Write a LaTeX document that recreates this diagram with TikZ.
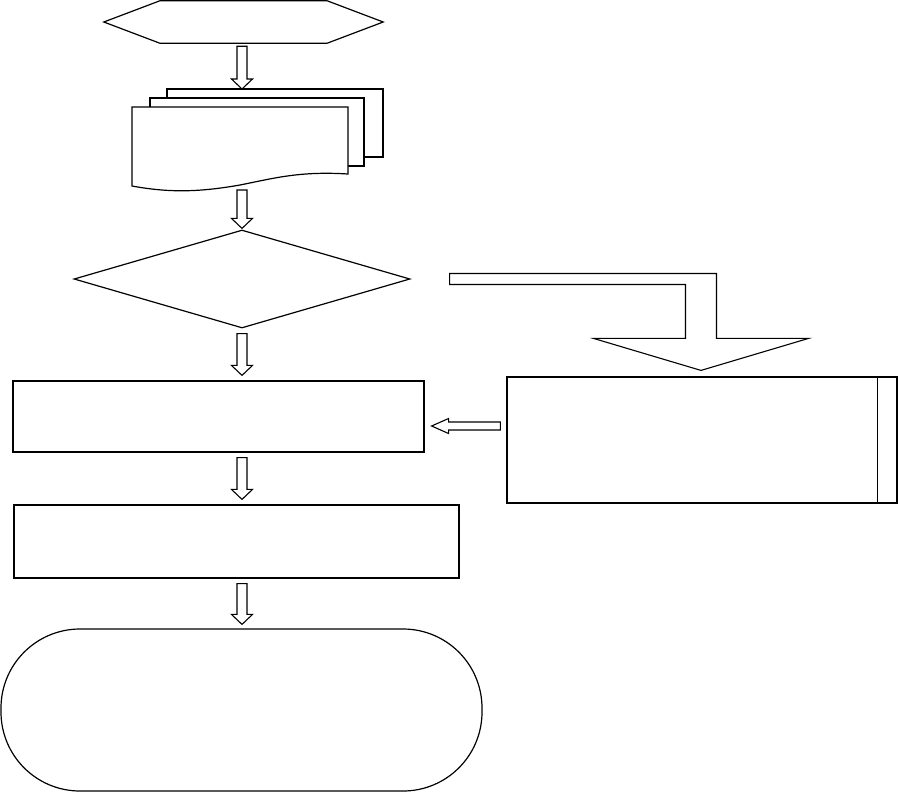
\documentclass[tikz,border=0pt]{standalone}
\usetikzlibrary{calc,shapes.geometric}
\tikzset{
	line/.style={draw=black,line width=1.2pt},
	blk/.style={draw=black,line width=1.1pt,fill=white,line join=miter},
	box/.style={rectangle,draw=black,line width=1.2pt,inner sep=0pt},
}
% hollow block arrow pointing down, x taken from the start point
\newcommand{\blkdown}[2]{\draw[blk] let \p1=(#1), \p2=(#2) in
	(\x1-5pt,\y1) -- (\x1+5pt,\y1) -- (\x1+5pt,\y2+10pt) -- (\x1+10.5pt,\y2+10pt) -- (\x1,\y2)
	-- (\x1-10.5pt,\y2+10pt) -- (\x1-5pt,\y2+10pt) -- cycle;}
\begin{document}
\begin{tikzpicture}[x=1pt,y=-1pt]
	\useasboundingbox (0,0) rectangle (899,793);
	% start
	\node[minimum width=167pt,minimum height=42pt,inner sep=0pt](hex) at (243.5,22){};
	\draw[line](hex.north west)--(hex.north east)--($(hex.east)+(56,0)$)--(hex.south east)
		--(hex.south west)--($(hex.west)+(-56,0)$)--cycle;
	% pages
	\coordinate(pages) at (242,89);
	\coordinate(docs) at (242,190);
	\draw[line,fill=white](167,89) rectangle (383,157);
	\draw[line,fill=white](150,98) rectangle (364,166);
	\draw[line,fill=white](132,107)--(348,107)--(348,174)
		.. controls (300,171) and (275,178) .. (240,185)
		.. controls (200,192) and (170,193) .. (132,186)--cycle;
	% decision and steps
	\node[diamond,draw=black,line width=1.2pt,inner sep=0pt,minimum width=336pt,minimum height=98pt](dia) at (242,279){};
	\node[box,minimum width=411pt,minimum height=71pt](act1) at (218.5,416.5){};
	\node[box,minimum width=445pt,minimum height=73pt](act2) at (236.5,541.5){};
	\node[box,rounded corners=79pt,minimum width=481pt,minimum height=162pt](stop) at (241.5,710){};
	\node[box,minimum width=390pt,minimum height=126pt](pre) at (702,440){};
	\draw[line]($(pre.north east)+(-20,0)$)--($(pre.south east)+(-20,0)$);
	% arrows
	\blkdown{$(hex.south)+(-1.5,3)$}{pages}
	\blkdown{docs}{$(dia.north)+(0,-1)$}
	\blkdown{$(dia.south)+(0,5)$}{$(act1.north)+(0,-5)$}
	\blkdown{$(act1.south -| dia.south)+(0,5)$}{$(act2.north)+(0,-5)$}
	\blkdown{$(act2.south -| dia.south)+(0,5)$}{$(stop.north)+(0,-4)$}
	\draw[blk] let \p1=($(dia.east)+(39,0)$), \p2=($(pre.north)+(-1,-6)$) in
		(\x1,\y1+5.5pt) -- (\x2+15.5pt,\y1+5.5pt) -- (\x2+15.5pt,\y2+32pt) -- (\x2+107.5pt,\y2+32pt)
		-- (\x2,\y2) -- (\x2-107.5pt,\y2+32pt) -- (\x2-15.5pt,\y2+32pt) -- (\x2-15.5pt,\y1-5.5pt)
		-- (\x1,\y1-5.5pt) -- cycle;
	\draw[blk] let \p1=($(pre.west)+(-6,-14)$), \p2=($(act1.east)+(7,0)$) in
		(\x1,\y1+4pt) -- (\x2+17pt,\y1+4pt) -- (\x2+17pt,\y1+7.5pt) -- (\x2,\y1)
		-- (\x2+17pt,\y1-7.5pt) -- (\x2+17pt,\y1-4pt) -- (\x1,\y1-4pt) -- cycle;
\end{tikzpicture}
\end{document}
